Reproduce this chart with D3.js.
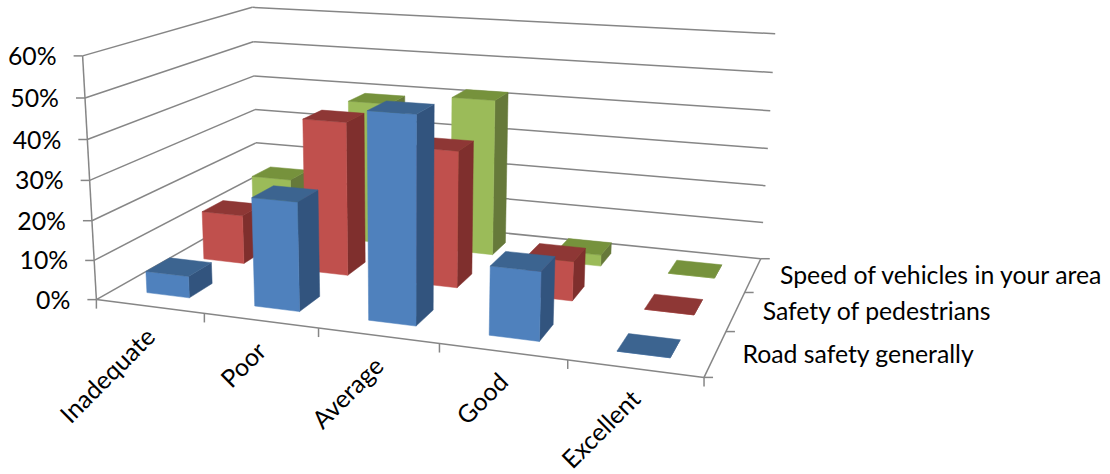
<!DOCTYPE html>
<html>
<head>
<meta charset="utf-8">
<script src="https://cdn.jsdelivr.net/npm/d3@7/dist/d3.min.js"></script>
<style>
html,body{margin:0;padding:0;background:#fff}
svg{display:block}
text{font-family:Lato,"Open Sans",sans-serif;font-size:24.8px;fill:#000}
</style>
</head>
<body>
<svg id="chart" width="1110" height="474"></svg>
<script>
// Ratings and the three survey questions (nearest series first)
const categories = ["Inadequate", "Poor", "Average", "Good", "Excellent"];
const seriesNames = ["Road safety generally", "Safety of pedestrians", "Speed of vehicles in your area"];
const roadSafety = [5.5, 27, 50, 16.5, 0];
const pedestrians = [13, 40, 35, 10, 0];
const speed = [15.5, 39, 42, 3, 0];
const valueTicks = [0, 10, 20, 30, 40, 50, 60];

const seriesValues = [roadSafety, pedestrians, speed];
const faceColours = [
  {front: "#4f81bd", side: "#32547e", top: "#3c6490"},
  {front: "#c0504d", side: "#7f2f2d", top: "#8e3735"},
  {front: "#9bbb59", side: "#66793a", top: "#76923c"}
];

// Box corners of the plot volume on the page: [u, v, h, px, py]
const cornerMap = [
  [0, 0, 0, 97, 299], [1, 0, 0, 704, 378], [0, 1, 0, 257, 209], [1, 1, 0, 761, 258],
  [0, 0, 1, 82, 56], [0, 1, 1, 253, 7], [1, 1, 1, 775, 34]
];

// Least-squares fit of a perspective camera to the box corners
function fitCamera(pts) {
  const rows = [], rhs = [];
  pts.forEach(([u, v, h, x, y]) => {
    rows.push([1, u, v, h, 0, 0, 0, 0, -x * u, -x * v, -x * h]); rhs.push(x);
    rows.push([0, 0, 0, 0, 1, u, v, h, -y * u, -y * v, -y * h]); rhs.push(y);
  });
  const n = 11;
  const m = d3.range(n).map(i => d3.range(n + 1).map(j =>
    d3.sum(rows, (r, k) => r[i] * (j < n ? r[j] : rhs[k]))));
  for (let i = 0; i < n; i++) {
    let p = i;
    for (let r = i + 1; r < n; r++) if (Math.abs(m[r][i]) > Math.abs(m[p][i])) p = r;
    [m[i], m[p]] = [m[p], m[i]];
    for (let r = 0; r < n; r++) {
      if (r === i) continue;
      const f = m[r][i] / m[i][i];
      for (let c = i; c <= n; c++) m[r][c] -= f * m[i][c];
    }
  }
  return m.map((r, i) => r[n] / r[i]);
}
const cam = fitCamera(cornerMap);
function project(u, v, h) {
  const w = 1 + cam[8] * u + cam[9] * v + cam[10] * h;
  return [(cam[0] + cam[1] * u + cam[2] * v + cam[3] * h) / w,
          (cam[4] + cam[5] * u + cam[6] * v + cam[7] * h) / w];
}

const height = d3.scaleLinear().domain([0, 60]).range([0, 1]);
const across = d3.scaleBand().domain(categories).range([0, 1]).paddingInner(0.6).paddingOuter(0.3);
const depth = d3.scaleBand().domain(seriesNames).range([0, 1]).paddingInner(0.6).paddingOuter(0.3);

const svg = d3.select("#chart");
const pathOf = d3.line();
const gridColour = "#868686";

function seg(g, a, b, w) {
  g.append("path").attr("d", pathOf([a, b])).attr("fill", "none")
    .attr("stroke", gridColour).attr("stroke-width", w || 1.5);
}

// Walls, floor edges and tick marks
const frame = svg.append("g");
valueTicks.forEach(t => {
  const h = height(t);
  seg(frame, project(0, 0, h), project(0, 1, h));
  seg(frame, project(0, 1, h), project(1, 1, h));
  const p = project(0, 0, h);
  seg(frame, p, [p[0] - 9, p[1]]);
  svg.append("text").attr("x", p[0] - 26).attr("y", p[1] + 9)
    .attr("text-anchor", "end").text(t + "%");
});
seg(frame, project(0, 0, 0), project(0, 0, 1));
seg(frame, project(0, 0, 0), project(1, 0, 0));
seg(frame, project(1, 0, 0), project(1, 1, 0));

d3.range(categories.length + 1).forEach(i => {
  const p = project(i * across.step(), 0, 0);
  seg(frame, p, [p[0], p[1] + 9]);
});
d3.range(seriesNames.length + 1).forEach(k => {
  const p = project(1, k * depth.step(), 0);
  seg(frame, p, [p[0] + 9, p[1]]);
});

// Bars, back row first and left to right so nearer boxes overlap farther ones
const bars = svg.append("g");
d3.range(seriesNames.length).reverse().forEach(k => {
  const name = seriesNames[k], col = faceColours[k];
  const v0 = depth(name), v1 = v0 + depth.bandwidth();
  categories.forEach((cat, i) => {
    const u0 = across(cat), u1 = u0 + across.bandwidth();
    const h = height(seriesValues[k][i]);
    const face = (pts, fill) => bars.append("path")
      .attr("d", pathOf(pts.map(q => project(q[0], q[1], q[2]))) + "Z")
      .attr("fill", fill).attr("stroke", fill).attr("stroke-width", 0.5);
    face([[u1, v0, 0], [u1, v1, 0], [u1, v1, h], [u1, v0, h]], col.side);
    face([[u0, v0, 0], [u1, v0, 0], [u1, v0, h], [u0, v0, h]], col.front);
    face([[u0, v0, h], [u1, v0, h], [u1, v1, h], [u0, v1, h]], col.top);
  });
});

// Rotated rating labels under the front edge
categories.forEach(cat => {
  const c = across(cat) + across.bandwidth() / 2;
  const p = project(c, 0, 0);
  svg.append("text")
    .attr("transform", `translate(${p[0] + 1},${p[1] + 26}) rotate(-45)`)
    .attr("text-anchor", "end").attr("dy", "0.35em").text(cat);
});

// Series names beside the right-hand floor edge
seriesNames.forEach(name => {
  const p = project(1, depth(name) + depth.bandwidth() / 2, 0);
  svg.append("text").attr("x", p[0] + 27).attr("y", p[1] + 9).text(name);
});
</script>
</body>
</html>
